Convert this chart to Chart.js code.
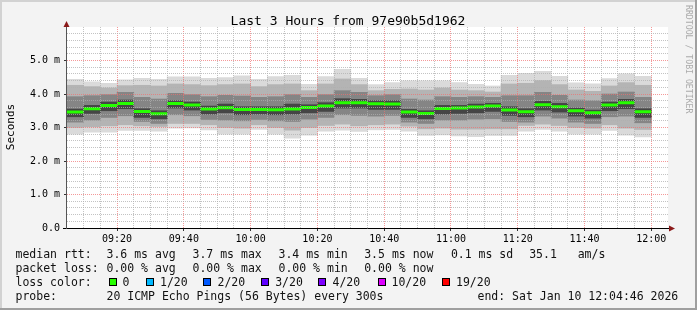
<!DOCTYPE html>
<html>
<head>
<meta charset="utf-8">
<script src="https://cdn.jsdelivr.net/npm/chart.js@4/dist/chart.umd.min.js"></script>
<style>
html,body{margin:0;padding:0;background:#f3f3f3;}
#wrap{width:697px;height:310px;position:relative;}
canvas{display:block;}
</style>
</head>
<body>
<div id="wrap"><canvas id="c" width="697" height="310"></canvas></div>
<script>
// ---- data (5-minute slots, values in ms) ----
const slotStart = ['09:05','09:10','09:15','09:20','09:25','09:30','09:35','09:40','09:45','09:50',
  '09:55','10:00','10:05','10:10','10:15','10:20','10:25','10:30','10:35','10:40',
  '10:45','10:50','10:55','11:00','11:05','11:10','11:15','11:20','11:25','11:30',
  '11:35','11:40','11:45','11:50','11:55'];
const median = [3.46,3.56,3.66,3.72,3.48,3.41,3.72,3.67,3.55,3.59,
  3.54,3.54,3.53,3.55,3.60,3.64,3.74,3.74,3.71,3.70,
  3.46,3.42,3.57,3.58,3.61,3.64,3.52,3.47,3.68,3.62,
  3.50,3.44,3.67,3.74,3.47];
const pingMin = [2.80,2.86,2.86,2.91,2.91,2.89,2.98,2.99,2.93,2.80,
  2.80,2.94,2.80,2.68,2.77,2.89,2.92,2.88,2.93,2.94,
  2.89,2.76,2.78,2.75,2.73,2.76,2.76,2.89,2.94,2.89,
  2.80,2.80,2.91,2.77,2.72];
const pingMax = [4.44,4.36,4.32,4.42,4.47,4.44,4.51,4.51,4.47,4.49,
  4.54,4.44,4.52,4.56,4.29,4.52,4.74,4.47,4.28,4.34,
  4.39,4.39,4.39,4.34,4.29,4.24,4.56,4.62,4.68,4.53,
  4.33,4.30,4.46,4.60,4.53];
const band2Lo = [3.00,3.02,3.05,3.08,3.05,3.03,3.12,3.12,3.08,3.00,
  2.98,3.08,3.00,2.92,3.00,3.06,3.10,3.05,3.08,3.10,
  3.04,2.96,2.98,2.95,2.95,2.96,2.96,3.06,3.10,3.06,
  3.00,2.98,3.08,2.98,2.94];
const band2Hi = [4.26,4.22,4.18,4.25,4.26,4.24,4.30,4.28,4.25,4.28,
  4.30,4.22,4.28,4.30,4.10,4.30,4.45,4.28,4.10,4.14,
  4.15,4.12,4.18,4.12,4.10,4.06,4.30,4.32,4.40,4.28,
  4.12,4.08,4.24,4.34,4.26];
const band3Lo = [3.16,3.22,3.30,3.35,3.18,3.12,3.38,3.35,3.24,3.22,
  3.20,3.24,3.20,3.18,3.25,3.30,3.38,3.36,3.34,3.36,
  3.16,3.12,3.22,3.22,3.25,3.26,3.18,3.16,3.34,3.28,
  3.16,3.12,3.32,3.34,3.14];
const band3Hi = [3.92,3.95,3.98,4.05,3.90,3.85,4.02,3.98,3.92,3.96,
  3.94,3.90,3.92,3.98,3.90,3.98,4.10,4.05,3.95,3.98,
  3.85,3.82,3.92,3.90,3.92,3.90,3.95,3.95,4.05,3.96,
  3.82,3.80,4.00,4.06,3.90];
const coreLo = [3.32,3.42,3.50,3.56,3.30,3.26,3.58,3.52,3.40,3.44,
  3.38,3.40,3.38,3.40,3.44,3.48,3.58,3.58,3.54,3.54,
  3.30,3.26,3.40,3.42,3.44,3.48,3.36,3.32,3.52,3.46,
  3.34,3.28,3.50,3.56,3.30];
const coreHi = [3.55,3.66,3.76,3.82,3.56,3.50,3.80,3.76,3.64,3.70,
  3.62,3.62,3.62,3.70,3.68,3.74,3.86,3.84,3.80,3.80,
  3.54,3.50,3.66,3.66,3.70,3.72,3.62,3.56,3.78,3.72,
  3.58,3.52,3.76,3.84,3.56];
const yTickValues = [0,1,2,3,4,5];
const lossColors = ['#26ff00','#00b8ff','#0059ff','#5e00ff','#7e00ff','#dd00ff','#ff0000'];
const lossLabels = ['0','1/20','2/20','3/20','4/20','10/20','19/20'];
const titleText = 'Last 3 Hours from 97e90b5d1962';
const legendRtt = ['median rtt:','3.6 ms avg','3.7 ms max','3.4 ms min','3.5 ms now','0.1 ms sd','35.1   am/s'];
const legendLoss = ['packet loss:','0.00 % avg','0.00 % max','0.00 % min','0.00 % now'];
const probeText = ['probe:','20 ICMP Echo Pings (56 Bytes) every 300s','end: Sat Jan 10 12:04:46 2026'];

// ---- helpers ----
const toMin = s => { const p = s.split(':').map(Number); return p[0]*60 + p[1] + (p[2]||0)/60; };
const STEP = 5;
const xMin = toMin(slotStart[0]);
const xMax = xMin + 180;
const centers = slotStart.map(s => toMin(s) + STEP/2);
const floating = (lo, hi) => slotStart.map((s,i) => ({x: centers[i], y: [lo[i], hi[i]]}));
const medianPts = [];
slotStart.forEach((s,i) => {
  const a = toMin(s);
  medianPts.push({x: a, y: median[i]}, {x: a + STEP, y: median[i]}, {x: a + STEP, y: null});
});
const fmt = v => String(Math.floor(v/60)).padStart(2,'0') + ':' + String(Math.round(v%60)).padStart(2,'0');
const near = (v, t) => Math.abs(v - t) < 1e-6;
const isInt = v => near(v, Math.round(v));

const MONO = '"DejaVu Sans Mono", "Liberation Mono", monospace';
const GRID_MINOR = 'rgba(175,175,175,0.75)';
const GRID_MAJOR = 'rgba(240,110,110,0.7)';

function barSet(label, lo, hi, color, order) {
  return {type: 'bar', label, data: floating(lo, hi), backgroundColor: color, borderWidth: 0,
    grouped: false, barPercentage: 1, categoryPercentage: 1, order};
}

const framePlugin = {
  id: 'frame',
  beforeDraw(chart) {
    const ctx = chart.ctx, a = chart.chartArea, W = chart.width, H = chart.height;
    ctx.save();
    ctx.fillStyle = '#f3f3f3'; ctx.fillRect(0,0,W,H);
    ctx.fillStyle = '#d2d2d2'; ctx.fillRect(0,0,W,2); ctx.fillRect(0,0,2,H);
    ctx.fillStyle = '#9f9f9f'; ctx.fillRect(0,H-2,W,2); ctx.fillRect(W-2,0,2,H);
    ctx.fillStyle = '#ffffff'; ctx.fillRect(a.left, a.top, a.right-a.left, a.bottom-a.top);
    ctx.restore();
  },
  afterDraw(chart) {
    const ctx = chart.ctx, a = chart.chartArea;
    ctx.save();
    // axes
    ctx.strokeStyle = '#000'; ctx.lineWidth = 1;
    ctx.beginPath(); ctx.moveTo(a.left-4, a.bottom+0.5); ctx.lineTo(a.right+4, a.bottom+0.5); ctx.stroke();
    ctx.strokeStyle = '#555';
    ctx.beginPath(); ctx.moveTo(a.left-0.5, a.bottom+1); ctx.lineTo(a.left-0.5, a.top-4); ctx.stroke();
    ctx.fillStyle = '#8b1a1a';
    ctx.beginPath(); ctx.moveTo(a.left-0.5, a.top-6); ctx.lineTo(a.left-3.5, a.top); ctx.lineTo(a.left+2.5, a.top); ctx.closePath(); ctx.fill();
    ctx.beginPath(); ctx.moveTo(a.right+7, a.bottom+0.5); ctx.lineTo(a.right+1, a.bottom-2.5); ctx.lineTo(a.right+1, a.bottom+3.5); ctx.closePath(); ctx.fill();
    // title
    ctx.fillStyle = '#000'; ctx.textBaseline = 'alphabetic';
    ctx.font = '13px ' + MONO; ctx.textAlign = 'center';
    ctx.fillText(titleText, 348, 25);
    // y axis label
    ctx.save(); ctx.translate(11, 127); ctx.rotate(-Math.PI/2);
    ctx.font = '11px ' + MONO; ctx.textAlign = 'center'; ctx.textBaseline = 'middle';
    ctx.fillText('Seconds', 0, 0); ctx.restore();
    // watermark
    ctx.save(); ctx.translate(688.5, 5); ctx.rotate(Math.PI/2);
    ctx.font = '8.2px ' + MONO; ctx.textAlign = 'left'; ctx.textBaseline = 'middle'; ctx.fillStyle = '#aaaaaa';
    ctx.fillText('RRDTOOL / TOBI OETIKER', 0, 0); ctx.restore();
    // legend
    ctx.font = '11.5px ' + MONO; ctx.textAlign = 'left'; ctx.fillStyle = '#111';
    const colsRtt = [15.5, 106.5, 192.5, 278.5, 364.2, 450.9, 529.2];
    legendRtt.forEach((t,i) => ctx.fillText(t, colsRtt[i], 258));
    legendLoss.forEach((t,i) => ctx.fillText(t, colsRtt[i], 272));
    ctx.fillText('loss color:', 15.5, 285.8);
    const sq = [108.7, 146, 203.3, 260.7, 318.3, 377.7, 441.7];
    const lb = [122.5, 160, 217.5, 275.2, 332.5, 391.5, 456];
    lossColors.forEach((c,i) => {
      ctx.fillStyle = '#000'; ctx.fillRect(Math.round(sq[i]), 278, 8, 8);
      ctx.fillStyle = c; ctx.fillRect(Math.round(sq[i])+1, 279, 6, 6);
      ctx.fillStyle = '#111'; ctx.fillText(lossLabels[i], lb[i], 285.8);
    });
    ctx.fillText(probeText[0], 15.5, 299.5);
    ctx.fillText(probeText[1], 106.5, 299.5);
    ctx.fillText(probeText[2], 477.5, 299.5);
    ctx.restore();
  }
};

new Chart(document.getElementById('c'), {
  data: {
    datasets: [
      barSet('outer', pingMin, pingMax, '#dadada', 6),
      barSet('band2', band2Lo, band2Hi, '#b4b4b4', 5),
      barSet('band3', band3Lo, band3Hi, '#858585', 4),
      barSet('core', coreLo, coreHi, '#454545', 3),
      {type: 'line', label: 'median', data: medianPts, borderColor: '#26ff00', borderWidth: 3,
       pointRadius: 0, spanGaps: false, borderCapStyle: 'butt', tension: 0, order: 1}
    ]
  },
  options: {
    responsive: false, animation: false, devicePixelRatio: 1,
    layout: {padding: {top: 27, right: 29, left: 0, bottom: 0}},
    plugins: {legend: {display: false}, tooltip: {enabled: false}, title: {display: false}},
    scales: {
      x: {
        type: 'linear', min: xMin, max: xMax, offset: false,
        afterFit: s => { s.height = 82; },
        grid: {offset: false, z: 1, lineWidth: 1, drawTicks: true, tickLength: 3,
          color: c => { const v = c.tick.value; if (near(v, xMin) || near(v, xMax)) return 'rgba(0,0,0,0)'; return (Math.round(v) % 20 === 0) ? GRID_MAJOR : GRID_MINOR; },
          tickColor: c => (Math.round(c.tick.value) % 20 === 0 && c.tick.value < xMax - 1) ? '#333' : 'rgba(0,0,0,0)',
          borderDash: [1,1]},
        border: {display: false, dash: [1,1]},
        ticks: {stepSize: STEP, autoSkip: false, maxRotation: 0, includeBounds: false, padding: 2,
          color: '#000', font: {family: MONO, size: 10},
          callback: v => (Math.round(v) % 20 === 0 && v < xMax - 1) ? fmt(v) : ''}
      },
      y: {
        type: 'linear', min: 0, max: 6, beginAtZero: true,
        afterFit: s => { s.width = 67; },
        grid: {z: 1, lineWidth: 1, drawTicks: true, tickLength: 3,
          color: c => { const v = c.tick.value; if (near(v,0) || near(v,6)) return 'rgba(0,0,0,0)'; return isInt(v) ? GRID_MAJOR : GRID_MINOR; },
          tickColor: c => (isInt(c.tick.value) && yTickValues.includes(Math.round(c.tick.value))) ? '#333' : 'rgba(0,0,0,0)',
          borderDash: [1,1]},
        border: {display: false, dash: [1,1]},
        ticks: {stepSize: 0.2, autoSkip: false, includeBounds: false, padding: 4,
          color: '#000', font: {family: MONO, size: 10},
          callback: v => { if (!isInt(v)) return ''; const r = Math.round(v); if (!yTickValues.includes(r)) return ''; return r === 0 ? '0.0' : r.toFixed(1) + ' m'; }}
      }
    }
  },
  plugins: [framePlugin]
});
</script>
</body>
</html>
